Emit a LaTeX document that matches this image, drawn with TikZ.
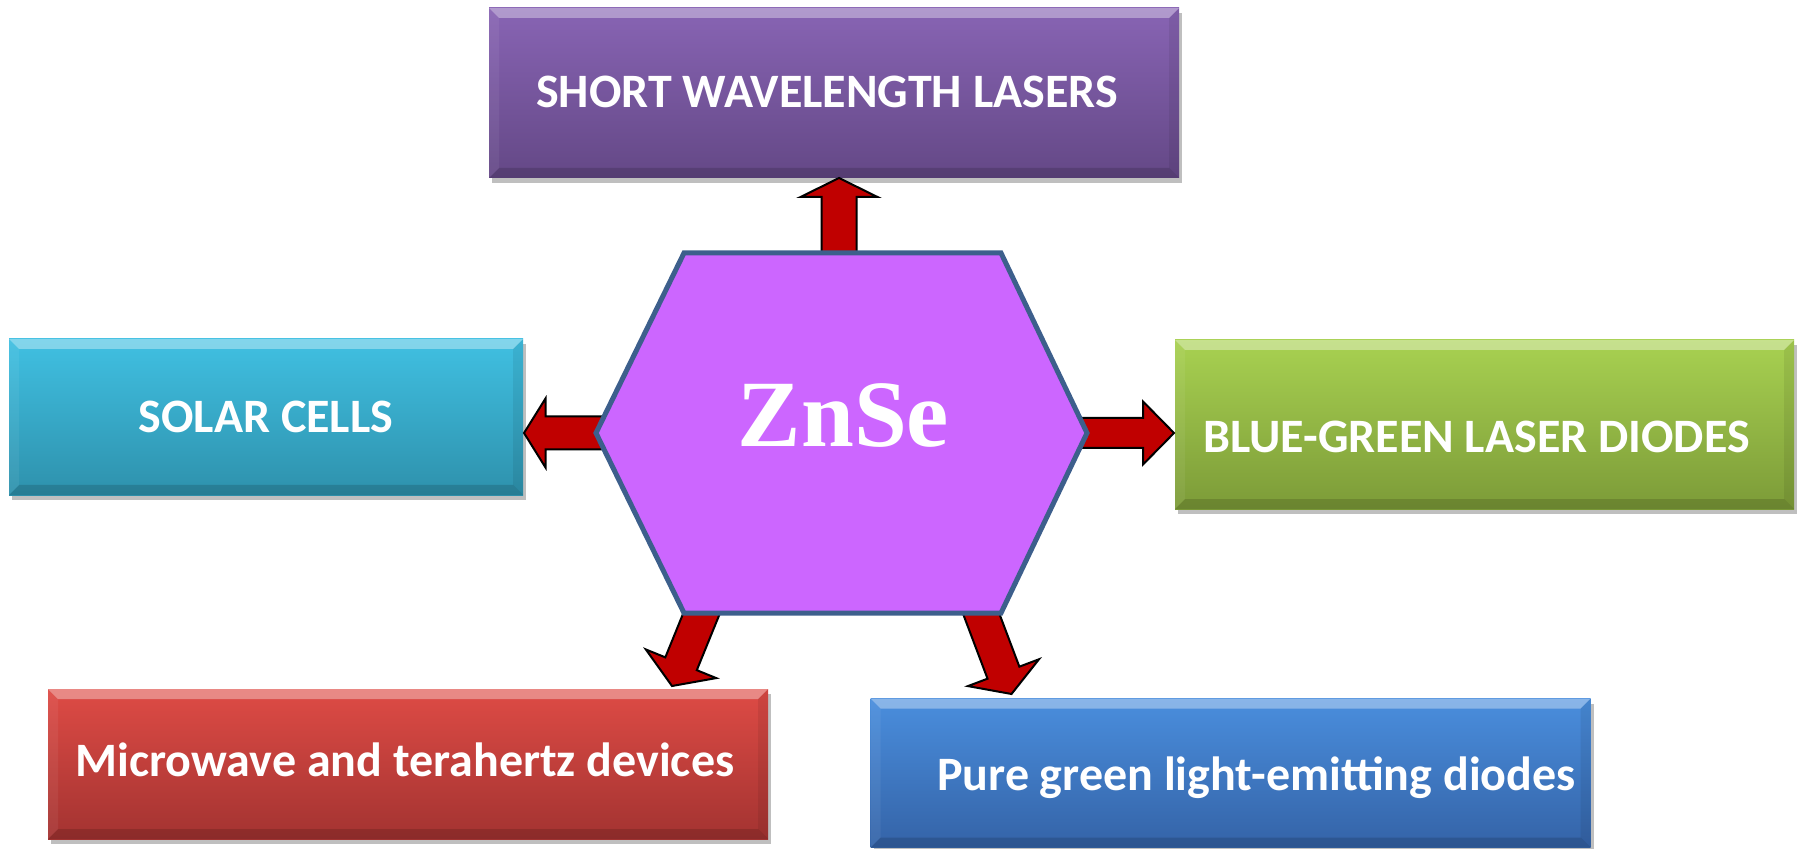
\documentclass[tikz,border=0pt]{standalone}
\usepackage{fontspec}
\setmainfont{Carlito}
\newfontfamily\timesfam{Liberation Serif}
\usetikzlibrary{calc,shadows}
\definecolor{arrowred}{HTML}{C00000}
\definecolor{hexfill}{HTML}{CC66FF}
\definecolor{hexline}{HTML}{3D5F8C}
\definecolor{purpT}{HTML}{8864B4}
\definecolor{purpB}{HTML}{644886}
\definecolor{cyanT}{HTML}{40C0E2}
\definecolor{cyanB}{HTML}{2E91AC}
\definecolor{grnT}{HTML}{A8D151}
\definecolor{grnB}{HTML}{7C9B38}
\definecolor{redT}{HTML}{DE4B45}
\definecolor{redB}{HTML}{A33331}
\definecolor{bluT}{HTML}{4A8EDD}
\definecolor{bluB}{HTML}{3463A7}
\tikzset{
  box/.style={rectangle, inner sep=0pt, draw=none,
    drop shadow={shadow xshift=1.5pt, shadow yshift=-2.5pt, opacity=0.25, fill=black},
    path picture={
      \fill[white,opacity=0.35] (path picture bounding box.north west) -- (path picture bounding box.north east)
        -- ([shift={(-5pt,-5pt)}]path picture bounding box.north east) -- ([shift={(5pt,-5pt)}]path picture bounding box.north west) -- cycle;
      \fill[black,opacity=0.14] (path picture bounding box.south west) -- (path picture bounding box.south east)
        -- ([shift={(-5pt,5pt)}]path picture bounding box.south east) -- ([shift={(5pt,5pt)}]path picture bounding box.south west) -- cycle;
      \fill[black,opacity=0.07] (path picture bounding box.north east) -- (path picture bounding box.south east)
        -- ([shift={(-5pt,5pt)}]path picture bounding box.south east) -- ([shift={(-5pt,-5pt)}]path picture bounding box.north east) -- cycle;
      \fill[white,opacity=0.06] (path picture bounding box.north west) -- (path picture bounding box.south west)
        -- ([shift={(5pt,5pt)}]path picture bounding box.south west) -- ([shift={(5pt,-5pt)}]path picture bounding box.north west) -- cycle;
    }},
  lbl/.style={text=white, inner sep=0pt, anchor=base, font=\fontsize{24}{28}\selectfont\bfseries},
  blockarrowstyle/.style={fill=arrowred, draw=black, line width=1pt, line join=miter},
  hexstyle/.style={fill=hexfill, draw=hexline, line width=2.5pt, line join=miter}
}
% #1 from, #2 to, #3 shaft half width, #4 head half width, #5 head length
\newcommand{\blockarrow}[5]{%
  \draw[blockarrowstyle] let \p1=($(#2)-(#1)$), \n1={atan2(\y1,\x1)} in
    ($(#1)+(\n1+90:#3)$) --
    ($(#2)!#5!(#1)+(\n1+90:#3)$) --
    ($(#2)!#5!(#1)+(\n1+90:#4)$) --
    (#2) --
    ($(#2)!#5!(#1)+(\n1-90:#4)$) --
    ($(#2)!#5!(#1)+(\n1-90:#3)$) --
    ($(#1)+(\n1-90:#3)$) -- cycle;
}
\begin{document}
\begin{tikzpicture}[x=0.5pt,y=-0.5pt]
\useasboundingbox (0,0) rectangle (1797,849);
% boxes
\node[box, top color=purpT, bottom color=purpB, minimum width=345pt, minimum height=85pt] (topbox) at (834,93) {};
\node[box, top color=cyanT, bottom color=cyanB, minimum width=257pt, minimum height=78pt] (solar) at (266,417) {};
\node[box, top color=grnT, bottom color=grnB, minimum width=309.5pt, minimum height=84.5pt] (bluegreen) at (1484.5,424.5) {};
\node[box, top color=redT, bottom color=redB, minimum width=360pt, minimum height=75pt] (micro) at (408,764) {};
\node[box, top color=bluT, bottom color=bluB, minimum width=360pt, minimum height=74.5pt] (puregreen) at (1230.5,773) {};
% labels
\node[lbl] (toptxt) at (827,108) {SHORT WAVELENGTH LASERS};
\node[lbl] (solartxt) at (266,433) {SOLAR CELLS};
\node[lbl] (bgtxt) at (1476.5,452) {BLUE-GREEN LASER DIODES};
\node[lbl] (microtxt) at (405,776) {Microwave and terahertz devices};
\node[lbl] (puretxt) at (1256.5,790) {Pure green light-emitting diodes};
% arrow end points
\coordinate (aUs) at (839,275);  \coordinate (aUe) at (839,178);
\coordinate (aLs) at (625,433);  \coordinate (aLe) at (524,433);
\coordinate (aRs) at (1065,433); \coordinate (aRe) at (1174,433);
\coordinate (aDLs) at (707,600); \coordinate (aDLe) at (672,686);
\coordinate (aDRs) at (976,600); \coordinate (aDRe) at (1011.5,694);
\blockarrow{aUs}{aUe}{8.75pt}{19.25pt}{9.5pt}
\blockarrow{aLs}{aLe}{8.25pt}{17.25pt}{10.75pt}
\blockarrow{aRs}{aRe}{7.5pt}{15.75pt}{15.5pt}
\blockarrow{aDLs}{aDLe}{8.5pt}{19pt}{12pt}
\blockarrow{aDRs}{aDRe}{8.5pt}{19pt}{11.4pt}
% hexagon
\coordinate (h1) at (684,253);
\coordinate (h2) at (1001,253);
\coordinate (h3) at (1087,433);
\coordinate (h4) at (1001,613);
\coordinate (h5) at (684,613);
\coordinate (h6) at (596,433);
\draw[hexstyle] (h1) -- (h2) -- (h3) -- (h4) -- (h5) -- (h6) -- cycle;
\node[text=white, inner sep=0pt, anchor=base, font=\timesfam\bfseries\fontsize{47.5}{50}\selectfont] (znse) at (843.5,447) {ZnSe};
\end{tikzpicture}
\end{document}
